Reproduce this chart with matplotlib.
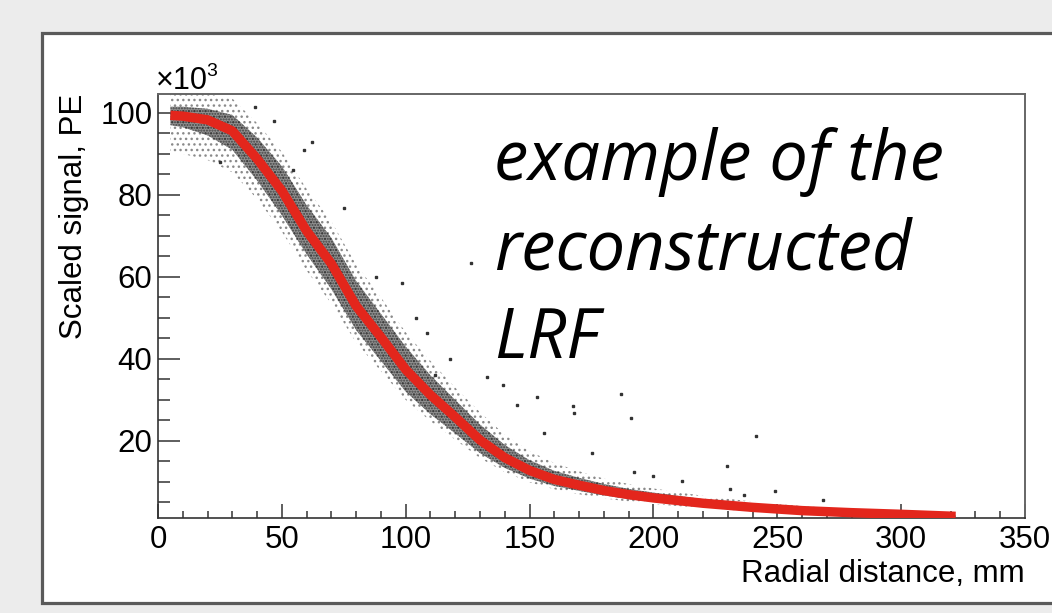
import matplotlib
matplotlib.use("Agg")
import matplotlib.pyplot as plt
import matplotlib.patches as patches
from matplotlib.ticker import MultipleLocator

# fitted LRF (red curve), signal in units of 10^3 PE
curve_x = [5, 10, 20, 30, 40, 50, 60, 70, 80, 90, 100, 110, 120, 130, 140,
           150, 160, 170, 180, 190, 200, 220, 240, 260, 280, 300, 322]
curve_y = [99.4, 99.2, 98.3, 95.6, 88.8, 81.0, 71.2, 63.2, 52.9, 45.3, 37.4,
           31.2, 25.8, 20.2, 15.9, 12.8, 10.6, 9.2, 7.9, 6.9, 6.1, 4.8, 3.8,
           3.0, 2.5, 2.1, 1.6]

# dense part of the event cloud
core_lo = [97.0, 96.5, 94.5, 91.0, 83.5, 75.0, 65.5, 57.0, 47.0, 39.5, 32.0,
           26.5, 21.8, 17.0, 13.4, 10.8, 9.0, 7.8, 6.7, 5.8, 5.1, 4.0, 3.1,
           2.4, 2.0, 1.7, 1.3]
core_hi = [101.5, 101.5, 101.0, 99.5, 94.0, 87.0, 77.5, 69.5, 59.0, 51.0, 43.0,
           36.0, 30.0, 24.0, 19.0, 15.3, 12.7, 11.0, 9.5, 8.3, 7.4, 5.8, 4.6,
           3.6, 3.0, 2.5, 2.0]

# sparse halo around it
halo_lo = [90.5, 90.0, 88.5, 85.5, 79.0, 71.0, 61.5, 53.5, 44.0, 37.0, 30.0,
           24.8, 20.3, 15.8, 12.4, 9.9, 8.2, 7.0, 6.0, 5.2, 4.6, 3.6, 2.8,
           2.2, 1.8, 1.5, 1.2]
halo_hi = [104.6, 104.6, 104.6, 103.5, 97.5, 90.5, 81.5, 73.5, 63.0, 55.0, 46.5,
           39.5, 33.0, 27.0, 21.5, 17.5, 14.6, 12.6, 10.8, 9.5, 8.4, 6.6, 5.2,
           4.1, 3.4, 2.9, 2.3]

# isolated events far from the curve
out_x = [39.2, 62.2, 58.8, 54.7, 75.0, 126.2, 98.6, 108.7, 153.2, 186.9, 191.0,
         167.4, 133.0, 139.1, 145.1, 155.9, 168.0, 241.3, 229.8, 211.6, 249.0,
         268.6, 230.8, 192.3, 236.7, 118.0, 104.0, 175.0, 200.0, 47.0, 25.0,
         88.0, 112.0]
out_y = [101.4, 92.9, 91.0, 86.1, 76.8, 63.3, 58.5, 46.4, 30.8, 31.5, 25.6,
         28.4, 35.7, 33.7, 28.8, 21.9, 26.8, 21.2, 13.9, 10.3, 7.8, 5.6, 8.2,
         12.5, 6.8, 40.0, 50.0, 17.0, 11.5, 98.0, 88.0, 60.0, 36.0]

fig = plt.figure(figsize=(10.52, 6.13), dpi=100)
fig.patch.set_facecolor('#ececec')

# white pad with dark border
fig.add_artist(patches.Rectangle((41.5 / 1052, 10.0 / 613), 1.1, 570.5 / 613,
                                 transform=fig.transFigure, facecolor='white',
                                 edgecolor='#5a5a5a', lw=2.3, zorder=0))

ax = fig.add_axes([158 / 1052, 95 / 613, 867 / 1052, 424 / 613])
ax.set_facecolor('none')

ax.fill_between(curve_x, halo_lo, halo_hi, facecolor='none', edgecolor='#8a8a8a',
                hatch='...', lw=0, zorder=1)
ax.fill_between(curve_x, core_lo, core_hi, facecolor='#4a4a4a', alpha=0.6,
                edgecolor='#111111', hatch='......', lw=0, zorder=2)
ax.plot(out_x, out_y, ls='none', marker='s', ms=1.6, color='#333333', zorder=3)
ax.plot(curve_x, curve_y, color='#e3261c', lw=6.8, solid_capstyle='butt',
        zorder=4)

ax.set_xlim(0, 350)
ax.set_ylim(1.2, 104.6)

ax.xaxis.set_major_locator(MultipleLocator(50))
ax.xaxis.set_minor_locator(MultipleLocator(10))
ax.yaxis.set_major_locator(MultipleLocator(20))
ax.yaxis.set_minor_locator(MultipleLocator(5))
ax.set_yticks([20, 40, 60, 80, 100])
ax.tick_params(axis='both', labelsize=22.5, labelfontfamily='Liberation Sans')
ax.tick_params(axis='y', which='major', direction='in', length=16, width=1.1,
               pad=4, color='#333333')
ax.tick_params(axis='y', which='minor', direction='in', length=8.5, width=1.1,
               color='#333333')
ax.tick_params(axis='x', which='major', direction='in', length=10, width=1.1,
               pad=5, color='#333333')
ax.tick_params(axis='x', which='minor', direction='in', length=5, width=1.1,
               color='#333333')

for side in ['left', 'bottom']:
    ax.spines[side].set_color('#333333')
    ax.spines[side].set_linewidth(1.2)
for side in ['top', 'right']:
    ax.spines[side].set_color('#666666')
    ax.spines[side].set_linewidth(1.4)

ax.set_xlabel('Radial distance, mm', fontfamily='Liberation Sans', fontsize=22.5,
              loc='right', labelpad=3)
ax.set_ylabel('Scaled signal, PE', fontfamily='Liberation Sans', fontsize=22.5,
              loc='top', labelpad=8)

fig.text(156 / 1052, 1 - 89 / 613, '\u00d710', fontfamily='Liberation Sans',
         fontsize=22, ha='left', va='baseline')
fig.text(206 / 1052, 1 - 76 / 613, '3', fontfamily='Liberation Sans',
         fontsize=14, ha='left', va='baseline')

note_font = {'family': 'Open Sans', 'style': 'italic', 'size': 49.5}
for line, base in [('example of the', 180), ('reconstructed', 270), ('LRF', 358)]:
    fig.text(494 / 1052, 1 - base / 613, line, fontdict=note_font,
             ha='left', va='baseline')

fig.savefig('out.png', dpi=100, facecolor=fig.get_facecolor())
